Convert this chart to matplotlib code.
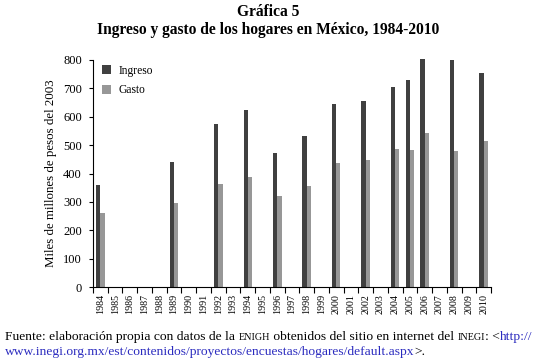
import matplotlib
matplotlib.use("Agg")
import matplotlib.pyplot as plt
import numpy as np

years = [str(y) for y in range(1984, 2011)]
ingreso = [361, 0, 0, 0, 0, 442, 0, 0, 576, 0, 625, 0, 473, 0, 533, 0,
           645, 0, 654, 0, 705, 728, 805, 0, 801, 0, 755]
gasto = [261, 0, 0, 0, 0, 297, 0, 0, 362, 0, 386, 0, 319, 0, 356, 0,
         437, 0, 446, 0, 487, 484, 544, 0, 479, 0, 516]

SERIF = ["Liberation Serif", "DejaVu Serif"]
plt.rcParams["font.family"] = SERIF

fig = plt.figure(figsize=(5.36, 3.64), dpi=100)
ax = fig.add_axes([93 / 536, 1 - 287 / 364, 398 / 536, 227 / 364])

x = np.arange(len(years))
w = 0.29
ax.bar(x - w / 2, ingreso, width=w, color="#404040", label="Ingreso", clip_on=False)
ax.bar(x + w / 2, gasto, width=w, color="#979797", label="Gasto", clip_on=False)

ax.set_xlim(-0.5, len(years) - 0.5)
ax.set_ylim(0, 800)
ax.set_yticks(range(0, 801, 100))
ax.tick_params(axis="y", labelsize=9, length=3, width=0.8, pad=5)
ax.set_xticks(x)
ax.set_xticklabels(years, rotation=90, fontsize=7.2)
ax.tick_params(axis="x", length=0, pad=5)
ax.set_xticks(np.arange(-0.5, len(years)), minor=True)
ax.tick_params(axis="x", which="minor", length=4, width=0.8)

for s in ["top", "right"]:
    ax.spines[s].set_visible(False)
for s in ["left", "bottom"]:
    ax.spines[s].set_linewidth(0.8)

ax.set_ylabel("Miles de millones de pesos del 2003", fontsize=9.3, labelpad=4)

ax.legend(loc="upper left", bbox_to_anchor=(0.0, 1.02), frameon=False,
          fontsize=8.3, handlelength=0.8, handleheight=0.8,
          handletextpad=0.6, labelspacing=0.65, borderaxespad=0.4)

fig.text(0.5, 1 - 12 / 364, "Gráfica 5", ha="center", va="center",
         fontsize=11.2, fontweight="bold")
fig.text(0.5, 1 - 30 / 364, "Ingreso y gasto de los hogares en México, 1984-2010",
         ha="center", va="center", fontsize=11.2, fontweight="bold")

# footer with small caps pieces, chained on one baseline
blue = "#2b2bbf"
fs = 9.7
sc = 7.3
line1 = [("Fuente: elaboración propia con datos de la ", fs, "black"),
         ("ENIGH", sc, "black"),
         (" obtenidos del sitio en internet del ", fs, "black"),
         ("INEGI", sc, "black"),
         (": <", fs, "black"),
         ("http://", fs, blue)]
line2 = [("www.inegi.org.mx/est/contenidos/proyectos/encuestas/hogares/default.aspx", fs, blue),
         (">.", fs, "black")]

for pieces, ybase in [(line1, 1 - 340 / 364), (line2, 1 - 355 / 364)]:
    last = None
    for txt, size, col in pieces:
        if last is None:
            last = fig.text(5 / 536, ybase, txt, fontsize=size, color=col,
                            va="baseline", ha="left")
        else:
            last = ax.annotate(txt, xy=(1, ybase), xycoords=(last, "figure fraction"),
                               fontsize=size, color=col, va="baseline", ha="left",
                               annotation_clip=False)

fig.savefig("out.png", dpi=100)
